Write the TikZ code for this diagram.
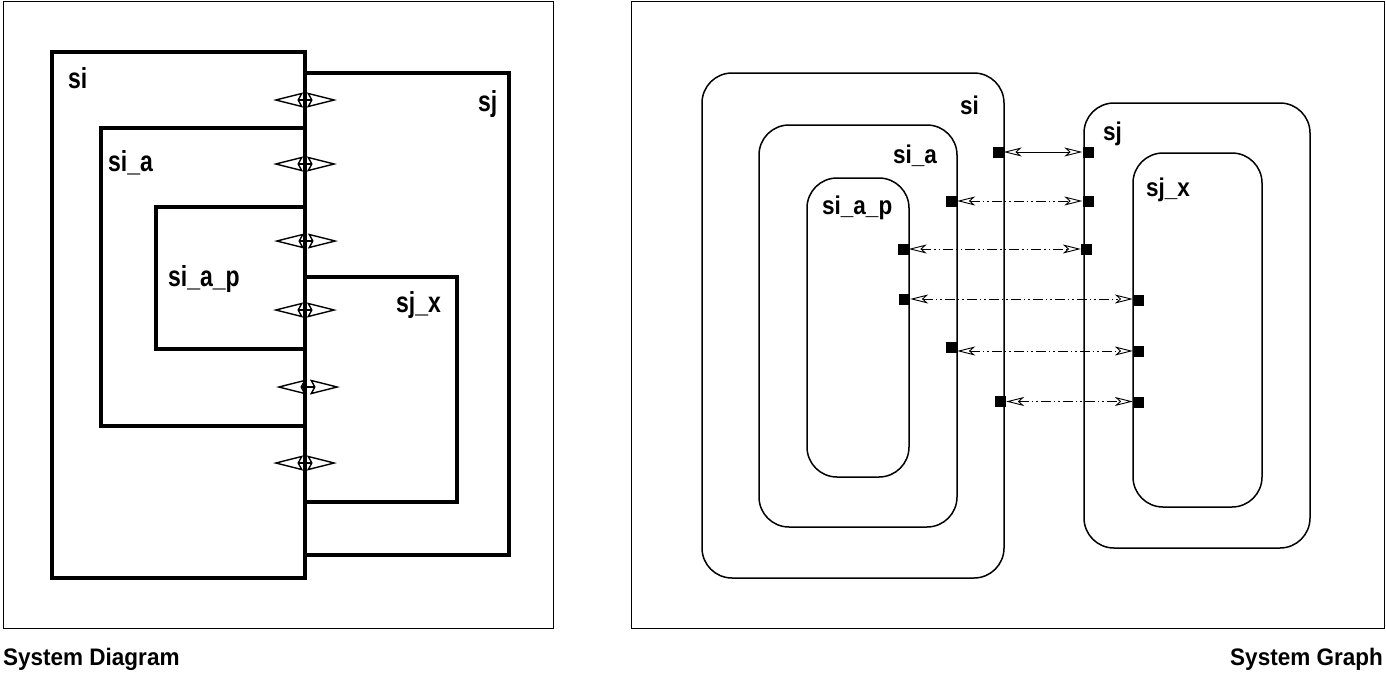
\documentclass[tikz,border=0pt]{standalone}
\usepackage{fontspec}
\setmainfont{Liberation Sans}
\usetikzlibrary{arrows.meta}
\newcommand{\lblLfont}{\fontsize{23}{27}\selectfont\bfseries}
\newcommand{\lblRfont}{\fontsize{22.5}{26}\selectfont\bfseries}
\newcommand{\capfont}{\fontsize{23.2}{27}\selectfont\bfseries}
\newcommand{\talltextL}[1]{\scalebox{1}[1.26]{#1}}
\newcommand{\talltextR}[1]{\scalebox{1}[1.14]{#1}}
\tikzset{
  frame/.style={draw, line width=1pt},
  lbox/.style={draw, line width=3.6pt},
  rbox/.style={draw, line width=1.5pt, rounded corners=30pt},
  lblL/.style={anchor=base west, inner sep=0pt, font=\lblLfont},
  lblR/.style={anchor=base west, inner sep=0pt, font=\lblRfont},
  captext/.style={inner sep=0pt, font=\capfont},
  port/.style={fill=black, draw=none, minimum size=11pt, inner sep=0pt},
  bidir/.style={line width=1.4pt,
    {Stealth[open,length=30pt,width=15pt,inset=4pt]}-{Stealth[open,length=30pt,width=15pt,inset=4pt]}},
  link/.style={line width=0.9pt,
    {Stealth[open,length=18pt,width=9pt,inset=5pt]}-{Stealth[open,length=18pt,width=9pt,inset=5pt]}},
  dashdotdot/.style={dash pattern=on 10pt off 3pt on 1.5pt off 3pt on 1.5pt off 3pt}
}
\begin{document}
\begin{tikzpicture}[x=1pt,y=-1pt]
\useasboundingbox (0,0) rectangle (1386,675);
% frames
\draw[frame] (3,1) rectangle (553,628);
\draw[frame] (631,1) rectangle (1384,628);
% ---------- System Diagram ----------
\draw[lbox] (52,52) rectangle (305,578);
\draw[lbox] (305,73) rectangle (509,555);
\draw[lbox] (101,128) rectangle (305,426);
\draw[lbox] (156,207) rectangle (305,349);
\draw[lbox] (305,277) rectangle (457,502);
\node[lblL] (dsi)   at (68,88)   {\talltextL{si}};
\node[lblL] (dsj)   at (478,111) {\talltextL{sj}};
\node[lblL] (dsia)  at (108,171) {\talltextL{si\_a}};
\node[lblL] (dsiap) at (168,286) {\talltextL{si\_a\_p}};
\node[lblL] (dsjx)  at (396,312) {\talltextL{sj\_x}};
\coordinate (b1) at (305,100);
\coordinate (b2) at (305,164);
\coordinate (b3) at (306,241);
\coordinate (b4) at (305,310);
\coordinate (b5) at (308,387);
\coordinate (b6) at (305,463);
\foreach \b in {b1,b2,b3,b4,b5,b6}
  \draw[bidir] ([xshift=-32pt]\b) -- ([xshift=32pt]\b);
% ---------- System Graph ----------
\draw[rbox] (702,73) rectangle (1004,578);
\draw[rbox] (759,125) rectangle (957,527);
\draw[rbox] (807,178) rectangle (909,477);
\draw[rbox] (1084,103) rectangle (1310,548);
\draw[rbox] (1133,153) rectangle (1262,507);
\node[lblR] (gsi)   at (960,114) {\talltextR{si}};
\node[lblR] (gsia)  at (893,163) {\talltextR{si\_a}};
\node[lblR] (gsiap) at (822,214) {\talltextR{si\_a\_p}};
\node[lblR] (gsj)   at (1103,140) {\talltextR{sj}};
\node[lblR] (gsjx)  at (1146,196) {\talltextR{sj\_x}};
% ports
\node[port] (p1l) at (998,152) {};
\node[port] (p1r) at (1088,152) {};
\node[port] (p2l) at (951.5,201) {};
\node[port] (p2r) at (1088,201) {};
\node[port] (p3l) at (903,249) {};
\node[port] (p3r) at (1086.5,249) {};
\node[port] (p4l) at (904.5,299) {};
\node[port] (p4r) at (1138.5,300) {};
\node[port] (p5l) at (951.5,347) {};
\node[port] (p5r) at (1138.5,351) {};
\node[port] (p6l) at (1000.5,401.5) {};
\node[port] (p6r) at (1138.5,402) {};
\draw[link] (p1l.east) -- (p1l.east -| p1r.west);
\draw[link,dashdotdot] (p2l.east) -- (p2l.east -| p2r.west);
\draw[link,dashdotdot] (p3l.east) -- (p3l.east -| p3r.west);
\draw[link,dashdotdot] (p4l.east) -- (p4l.east -| p4r.west);
\draw[link,dashdotdot] (p5l.east |- p5r.west) -- (p5r.west);
\draw[link,dashdotdot] (p6l.east) -- (p6l.east -| p6r.west);
% captions
\node[captext, anchor=base west] (capl) at (3,665) {\scalebox{0.97}[1.03]{System Diagram}};
\node[captext, anchor=base east] (capr) at (1383,665) {\scalebox{0.97}[1.03]{System Graph}};
\end{tikzpicture}
\end{document}
